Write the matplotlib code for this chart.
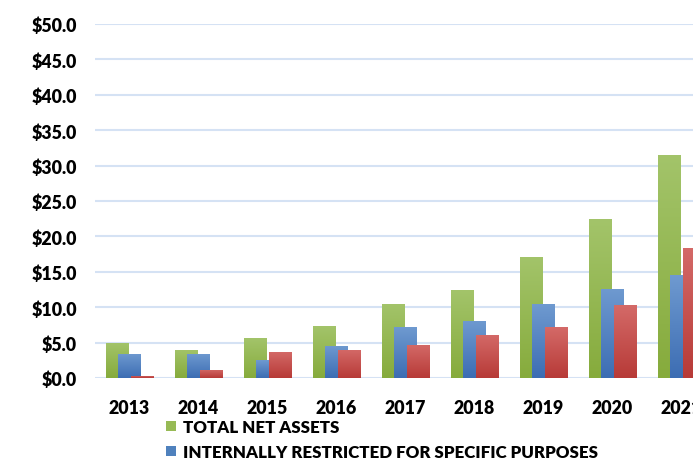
import numpy as np
import matplotlib
matplotlib.use("Agg")
import matplotlib.pyplot as plt
from matplotlib.patches import Patch
from matplotlib.colors import LinearSegmentedColormap

years = ["2013", "2014", "2015", "2016", "2017", "2018", "2019", "2020", "2021"]
total_net_assets = [5.0, 4.0, 5.6, 7.3, 10.5, 12.4, 17.1, 22.4, 31.5]
internally_restricted = [3.4, 3.4, 2.5, 4.6, 7.2, 8.1, 10.4, 12.6, 14.5]
other_restricted = [0.3, 1.2, 3.7, 4.0, 4.7, 6.1, 7.2, 10.3, 18.4]
y_ticks = [0, 5, 10, 15, 20, 25, 30, 35, 40, 45, 50]

plt.rcParams["font.family"] = ["Lato", "DejaVu Sans"]
plt.rcParams["font.weight"] = "bold"

fig = plt.figure(figsize=(6.93, 4.64), dpi=100)
ax = fig.add_axes([0.137, 0.183, 0.896, 0.763])

x = np.arange(len(years))
width = 0.32
offset = 0.18

series = [
    (total_net_assets, -offset, ("#a3c46a", "#86ab3c"), "#97ba55", "TOTAL NET ASSETS"),
    (internally_restricted, 0.0, ("#6f9ad0", "#3c6db3"), "#4f81bd",
     "INTERNALLY RESTRICTED FOR SPECIFIC PURPOSES"),
    (other_restricted, offset, ("#d46a68", "#b73a37"), "#c0504d", None),
]

grad = np.linspace(1, 0, 256).reshape(-1, 1)
for z, (vals, dx, (top, bot), mid, label) in enumerate(series):
    cmap = LinearSegmentedColormap.from_list("g", [bot, top])
    bars = ax.bar(x + dx, vals, width=width, color="none", edgecolor="none",
                  zorder=3 + z)
    for b in bars:
        x0, y0 = b.get_x(), b.get_y()
        w, h = b.get_width(), b.get_height()
        im = ax.imshow(grad, cmap=cmap, vmin=0, vmax=1, aspect="auto",
                       extent=[x0, x0 + w, y0, y0 + h], zorder=3 + z,
                       interpolation="bilinear")
        im.set_clip_path(b)

ax.set_xlim(-0.5, len(years) - 0.5)
ax.set_ylim(0, 50)
ax.set_yticks(y_ticks)
ax.set_yticklabels([f"${v:.1f}" for v in y_ticks])
ax.set_xticks(x)
ax.set_xticklabels(years)
ax.tick_params(axis="y", length=0, pad=13, labelsize=12.8)
ax.tick_params(axis="x", length=0, pad=15, labelsize=12.8)
for lbl in ax.get_xticklabels() + ax.get_yticklabels():
    lbl.set_fontweight("heavy")

ax.grid(axis="y", color="#d5e2f4", linewidth=1.5, zorder=0)
ax.set_axisbelow(True)
for s in ax.spines.values():
    s.set_visible(False)

handles = [Patch(facecolor=series[0][3]), Patch(facecolor=series[1][3])]
labels = [series[0][4], series[1][4]]
fig.legend(handles, labels, loc="upper left", bbox_to_anchor=(0.24, 0.095),
           frameon=False, prop={"weight": "heavy", "size": 12.2},
           handlelength=0.55, handleheight=0.55, handletextpad=0.45,
           labelspacing=0.55, borderaxespad=0, borderpad=0)

fig.savefig("out.png", dpi=100)
